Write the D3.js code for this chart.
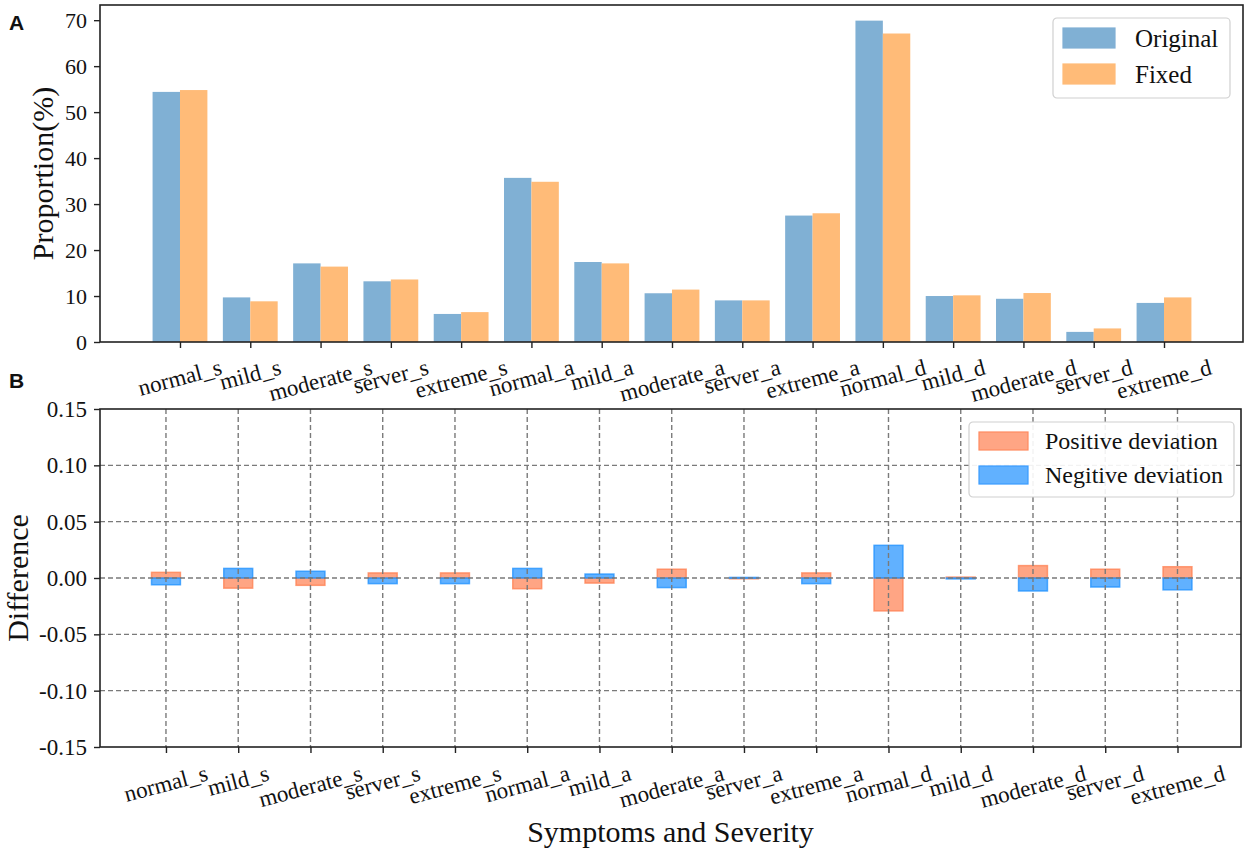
<!DOCTYPE html>
<html>
<head>
<meta charset="utf-8">
<script src="https://cdn.jsdelivr.net/npm/d3@7"></script>
<style>
  html, body { margin: 0; padding: 0; background: #fff; }
  svg { display: block; }
  text { font-family: "Liberation Serif", "Times New Roman", serif; fill: #111; }
  .panel-tag { font-family: "Liberation Sans", Arial, sans-serif; font-weight: bold; }
</style>
</head>
<body>
<div id="chart"></div>
<script>
// categories shared by both panels
const categories = ['normal_s', 'mild_s', 'moderate_s', 'server_s', 'extreme_s',
                    'normal_a', 'mild_a', 'moderate_a', 'server_a', 'extreme_a',
                    'normal_d', 'mild_d', 'moderate_d', 'server_d', 'extreme_d'];

// panel A: proportions (%)
const original = [54.4, 9.7, 17.1, 13.2, 6.1, 35.7, 17.4, 10.6, 9.05, 27.5, 69.9, 10.0, 9.4, 2.2, 8.5];
const fixed    = [54.8, 8.85, 16.4, 13.6, 6.5, 34.85, 17.1, 11.4, 9.05, 28.0, 67.1, 10.15, 10.65, 2.95, 9.7];
const topTicks = [0, 10, 20, 30, 40, 50, 60, 70];

// panel B: differences
const positiveDev = [0.005, -0.009, -0.0065, 0.0045, 0.0045, -0.0095, -0.0045, 0.0078, -0.0005, 0.0045,
                     -0.0292, 0.0008, 0.011, 0.0078, 0.010];
const negativeDev = [-0.006, 0.0085, 0.006, -0.005, -0.005, 0.0085, 0.0035, -0.0085, 0.0005, -0.005,
                     0.029, -0.0008, -0.0115, -0.008, -0.0105];
const bottomTicks = [-0.15, -0.10, -0.05, 0, 0.05, 0.10, 0.15];

const W = 1248, H = 856;
const serif = '"Liberation Serif", "Times New Roman", serif';
const svg = d3.select('#chart').append('svg').attr('width', W).attr('height', H);

const spine = '#222';
const rot = 15 * Math.PI / 180;

// rotated, centred category labels under an axis
function categoryLabels(g, x, y0, size) {
    g.selectAll('text.cat')
        .data(categories)
        .join('text')
        .attr('class', 'cat')
        .style('font-family', serif)
        .attr('font-size', size)
        .attr('text-anchor', 'middle')
        .attr('dominant-baseline', 'central')
        .text(d => d)
        .attr('transform', function (d, i) {
            const len = this.getComputedTextLength();
            const h = len * Math.sin(rot) + size * 1.05 * Math.cos(rot);
            return `translate(${x(i)},${y0 + h / 2}) rotate(-15)`;
        });
}

function styleAxis(g, size) {
    g.attr('font-family', null);
    g.select('.domain').remove();
    g.selectAll('.tick line').attr('stroke', spine).attr('stroke-width', 1.4);
    g.selectAll('.tick text')
        .style('font-family', serif)
        .style('font-size', size + 'px')
        .style('fill', '#111');
}

function frame(g, x0, y0, x1, y1) {
    g.append('rect')
        .attr('x', x0).attr('y', y0)
        .attr('width', x1 - x0).attr('height', y1 - y0)
        .attr('fill', 'none')
        .attr('stroke', spine)
        .attr('stroke-width', 1.6);
}

function legend(g, x, y, w, h, items, sw, sh, gap, size) {
    const lg = g.append('g').attr('transform', `translate(${x},${y})`);
    lg.append('rect')
        .attr('width', w).attr('height', h).attr('rx', 4)
        .attr('fill', '#fff').attr('fill-opacity', 0.9)
        .attr('stroke', '#d0d0d0').attr('stroke-width', 1.2);
    items.forEach((it, i) => {
        const cy = sh / 2 + 10 + i * gap;
        lg.append('rect')
            .attr('x', 10).attr('y', cy - sh / 2)
            .attr('width', sw).attr('height', sh)
            .attr('fill', it.fill).attr('fill-opacity', it.fo || 1)
            .attr('stroke', it.stroke).attr('stroke-width', 1.2);
        lg.append('text')
            .attr('x', it.tx).attr('y', cy)
            .attr('dominant-baseline', 'central')
            .attr('font-size', size)
            .text(it.label);
    });
}

// ---------- panel A ----------
const a = { left: 100, right: 1243, top: 5, bottom: 342 };
const xA = d3.scaleLinear().domain([-1.138, 15.124]).range([a.left, a.right]);
const yA = d3.scaleLinear().domain([0, 73.3]).range([a.bottom, a.top]);
const barA = xA(0.39) - xA(0);

const gA = svg.append('g');

gA.append('g').selectAll('rect')
    .data(original)
    .join('rect')
    .attr('x', (d, i) => xA(i) - barA)
    .attr('y', d => yA(d))
    .attr('width', barA)
    .attr('height', d => yA(0) - yA(d))
    .attr('fill', '#80b0d4');

gA.append('g').selectAll('rect')
    .data(fixed)
    .join('rect')
    .attr('x', (d, i) => xA(i))
    .attr('y', d => yA(d))
    .attr('width', barA)
    .attr('height', d => yA(0) - yA(d))
    .attr('fill', '#ffbb78');

frame(gA, a.left, a.top, a.right, a.bottom);

gA.append('g')
    .attr('transform', `translate(${a.left},0)`)
    .call(d3.axisLeft(yA).tickValues(topTicks).tickSize(6).tickPadding(7).tickFormat(d3.format('d')))
    .call(g => styleAxis(g, 22));

gA.append('g')
    .attr('transform', `translate(0,${a.bottom})`)
    .call(d3.axisBottom(xA).tickValues(d3.range(categories.length)).tickSize(6).tickFormat(''))
    .call(g => styleAxis(g, 22));

categoryLabels(gA.append('g'), xA, a.bottom + 13, 23);

gA.append('text')
    .attr('transform', `translate(42,${(a.top + a.bottom) / 2}) rotate(-90)`)
    .attr('text-anchor', 'middle')
    .attr('dominant-baseline', 'central')
    .attr('font-size', 30)
    .text('Proportion(%)');

legend(gA, 1053, 18, 177, 80, [
    { label: 'Original', fill: '#80b0d4', stroke: '#80b0d4', tx: 82 },
    { label: 'Fixed', fill: '#ffbb78', stroke: '#ffbb78', tx: 82 }
], 52, 20, 36, 25);

svg.append('text').attr('class', 'panel-tag')
    .attr('x', 9).attr('y', 30).attr('font-size', 21).text('A');

// ---------- panel B ----------
const b = { left: 100, right: 1241, top: 409, bottom: 747 };
const xB = d3.scaleLinear().domain([-0.913, 14.879]).range([b.left, b.right]);
const yB = d3.scaleLinear().domain([-0.15, 0.15]).range([b.bottom, b.top]);
const barB = xB(0.4) - xB(0);

const gB = svg.append('g');

function devBars(values, color) {
    gB.append('g').selectAll('rect')
        .data(values)
        .join('rect')
        .attr('x', (d, i) => xB(i) - barB / 2)
        .attr('y', d => yB(Math.max(0, d)))
        .attr('width', barB)
        .attr('height', d => Math.max(0.8, Math.abs(yB(d) - yB(0))))
        .attr('fill', color)
        .attr('fill-opacity', 0.7)
        .attr('stroke', color)
        .attr('stroke-opacity', 0.75)
        .attr('stroke-width', 1.5);
}

devBars(positiveDev, '#ff7f50');
devBars(negativeDev, '#1e90ff');

// dashed grid drawn over the bars
const grid = gB.append('g')
    .attr('stroke', '#7a7a7a')
    .attr('stroke-width', 1.4)
    .attr('stroke-dasharray', '5,3');

grid.selectAll('line.h')
    .data(bottomTicks.slice(1, -1))
    .join('line')
    .attr('class', 'h')
    .attr('x1', b.left).attr('x2', b.right)
    .attr('y1', d => yB(d)).attr('y2', d => yB(d));

grid.selectAll('line.v')
    .data(d3.range(categories.length))
    .join('line')
    .attr('class', 'v')
    .attr('x1', d => xB(d)).attr('x2', d => xB(d))
    .attr('y1', b.top).attr('y2', b.bottom);

frame(gB, b.left, b.top, b.right, b.bottom);

gB.append('g')
    .attr('transform', `translate(${b.left},0)`)
    .call(d3.axisLeft(yB).tickValues(bottomTicks).tickSize(6).tickPadding(7)
        .tickFormat(d => (Math.abs(d) < 1e-9 ? 0 : d).toFixed(2)))
    .call(g => styleAxis(g, 23));

gB.append('g')
    .attr('transform', `translate(0,${b.bottom})`)
    .call(d3.axisBottom(xB).tickValues(d3.range(categories.length)).tickSize(6).tickFormat(''))
    .call(g => styleAxis(g, 22));

categoryLabels(gB.append('g'), xB, b.bottom + 14, 23);

gB.append('text')
    .attr('transform', `translate(17,${(b.top + b.bottom) / 2}) rotate(-90)`)
    .attr('text-anchor', 'middle')
    .attr('dominant-baseline', 'central')
    .attr('font-size', 30)
    .text('Difference');

gB.append('text')
    .attr('x', (b.left + b.right) / 2)
    .attr('y', 842)
    .attr('text-anchor', 'middle')
    .attr('font-size', 30)
    .text('Symptoms and Severity');

legend(gB, 969, 422, 265, 75, [
    { label: 'Positive deviation', fill: '#ff7f50', fo: 0.7, stroke: '#ff8a60', tx: 76 },
    { label: 'Negitive deviation', fill: '#1e90ff', fo: 0.7, stroke: '#3a9cff', tx: 76 }
], 49, 18, 34, 24);

svg.append('text').attr('class', 'panel-tag')
    .attr('x', 9).attr('y', 388).attr('font-size', 21).text('B');
</script>
</body>
</html>
